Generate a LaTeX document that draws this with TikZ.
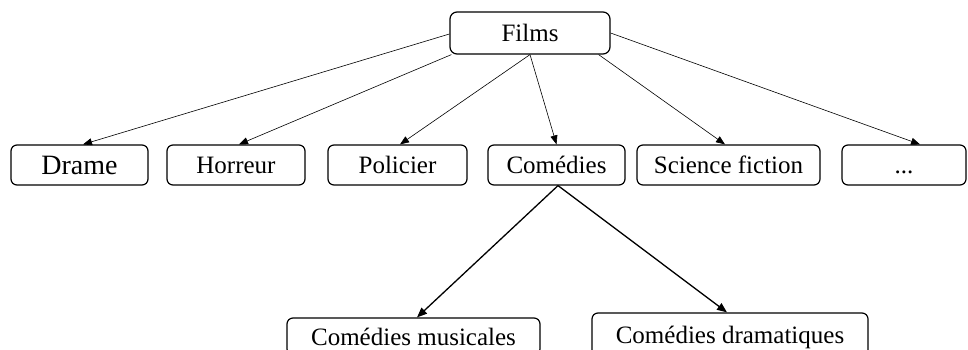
\documentclass[tikz,border=0pt]{standalone}
\usepackage{fontspec}
\setmainfont{Liberation Serif}
\usetikzlibrary{arrows.meta}
\begin{document}
\begin{tikzpicture}[x=1pt,y=-1pt,
  box/.style={draw=black, rounded corners=6pt, line width=1.2pt, inner sep=0pt,
    font=\fontsize{25}{30}\selectfont, text height=17pt, text depth=0pt},
  thinarrow/.style={draw=black, line width=0.6pt, -{Triangle[length=9pt,width=7pt]}},
  thickarrow/.style={draw=black, line width=1.3pt, -{Triangle[length=10pt,width=8pt]}}]
\useasboundingbox (0,0) rectangle (968,350);
\fill[white] (0,0) rectangle (968,350);
\clip (0,0) rectangle (968,350);
\node[box, rounded corners=7pt, minimum width=160pt, minimum height=42pt] (films) at (530,33) {Films};
\node[box, font=\fontsize{28}{32}\selectfont, text height=19pt, minimum width=137pt, minimum height=40pt] (drame) at (79.5,165) {Drame};
\node[box, minimum width=138pt, minimum height=40pt] (horreur) at (236,165) {Horreur};
\node[box, minimum width=139pt, minimum height=40pt] (policier) at (397.5,165) {Policier};
\node[box, minimum width=137pt, minimum height=40pt] (comedies) at (556.5,165) {Comédies};
\node[box, minimum width=183pt, minimum height=40pt] (scifi) at (728.5,165) {Science fiction};
\node[box, minimum width=124pt, minimum height=40pt] (dots) at (904,165) {...};
\node[box, minimum width=253pt, minimum height=37pt] (musicales) at (413.5,336.5) {Comédies musicales};
\node[box, minimum width=276pt, minimum height=44pt] (dramatiques) at (730,335) {Comédies dramatiques};

\draw[thinarrow] ([yshift=-1pt]films.west) -- ([xshift=3.5pt]drame.north);
\draw[thinarrow] ([xshift=2pt]films.south west) -- ([xshift=3pt]horreur.north);
\draw[thinarrow] (films.south) -- ([xshift=2.5pt]policier.north);
\draw[thinarrow] (films.south) -- (comedies.north);
\draw[thinarrow] ([xshift=-12pt]films.south east) -- ([xshift=-3.5pt]scifi.north);
\draw[thinarrow] (films.east) -- ([xshift=16pt]dots.north);
\draw[thickarrow] ([xshift=1.5pt]comedies.south) -- ([xshift=3.5pt]musicales.north);
\draw[thickarrow] ([xshift=1.5pt]comedies.south) -- ([xshift=-3pt]dramatiques.north);
\end{tikzpicture}
\end{document}
